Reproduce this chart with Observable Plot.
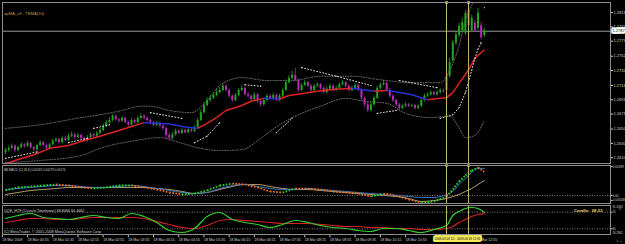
<!DOCTYPE html>
<html><head><meta charset="utf-8">
<script src="https://cdn.jsdelivr.net/npm/d3@7"></script>
<script src="https://cdn.jsdelivr.net/npm/@observablehq/plot@0.6"></script>
<style>
html,body{margin:0;padding:0;background:#000;}
#chart{width:625px;height:244px;overflow:hidden;background:#000;}
#chart svg{display:block;}
</style></head><body><div id="chart"></div>
<script>
// ---------- price bars (5-minute EURUSD-like) ----------
const open = [1.2617,1.2620,1.2623,1.2626,1.2620,1.2624,1.2628,1.2626,1.2630,1.2624,
1.2621,1.2627,1.2631,1.2627,1.2623,1.2628,1.2633,1.2635,1.2631,1.2637,
1.2634,1.2640,1.2642,1.2638,1.2641,1.2637,1.2634,1.2638,1.2642,1.2640,
1.2644,1.2648,1.2654,1.2659,1.2662,1.2668,1.2663,1.2661,1.2665,1.2659,
1.2656,1.2662,1.2659,1.2665,1.2668,1.2665,1.2662,1.2659,1.2655,1.2658,
1.2654,1.2651,1.2641,1.2637,1.2642,1.2647,1.2644,1.2648,1.2645,1.2649,
1.2647,1.2652,1.2662,1.2673,1.2683,1.2690,1.2693,1.2697,1.2701,1.2704,
1.2710,1.2704,1.2696,1.2690,1.2697,1.2704,1.2707,1.2698,1.2696,1.2691,
1.2698,1.2689,1.2684,1.2690,1.2696,1.2693,1.2697,1.2690,1.2696,1.2704,
1.2715,1.2721,1.2725,1.2718,1.2704,1.2711,1.2715,1.2710,1.2704,1.2710,
1.2712,1.2707,1.2701,1.2706,1.2710,1.2704,1.2707,1.2712,1.2715,1.2710,
1.2704,1.2707,1.2711,1.2704,1.2693,1.2684,1.2676,1.2684,1.2693,1.2707,
1.2712,1.2714,1.2704,1.2696,1.2690,1.2684,1.2679,1.2682,1.2684,1.2682,
1.2683,1.2679,1.2682,1.2690,1.2696,1.2698,1.2701,1.2698,1.2701,1.2704,
1.2704,1.2724,1.2746,1.2770,1.2781,1.2788,1.2784,1.2816,1.2788,1.2798,
1.2791,1.2795,1.2781];
const close = [1.2620,1.2623,1.2626,1.2620,1.2624,1.2628,1.2626,1.2630,1.2624,1.2621,
1.2627,1.2631,1.2627,1.2623,1.2628,1.2633,1.2635,1.2631,1.2637,1.2634,
1.2640,1.2642,1.2638,1.2641,1.2637,1.2634,1.2638,1.2642,1.2640,1.2644,
1.2648,1.2654,1.2659,1.2662,1.2668,1.2663,1.2661,1.2665,1.2659,1.2656,
1.2662,1.2659,1.2665,1.2668,1.2665,1.2662,1.2659,1.2655,1.2658,1.2654,
1.2651,1.2641,1.2637,1.2642,1.2647,1.2644,1.2648,1.2645,1.2649,1.2647,
1.2652,1.2662,1.2673,1.2683,1.2690,1.2693,1.2697,1.2701,1.2704,1.2710,
1.2704,1.2696,1.2690,1.2697,1.2704,1.2707,1.2698,1.2696,1.2691,1.2698,
1.2689,1.2684,1.2690,1.2696,1.2693,1.2697,1.2690,1.2696,1.2704,1.2715,
1.2721,1.2725,1.2718,1.2704,1.2711,1.2715,1.2710,1.2704,1.2710,1.2712,
1.2707,1.2701,1.2706,1.2710,1.2704,1.2707,1.2712,1.2715,1.2710,1.2704,
1.2707,1.2711,1.2704,1.2693,1.2684,1.2676,1.2684,1.2693,1.2707,1.2712,
1.2714,1.2704,1.2696,1.2690,1.2684,1.2679,1.2682,1.2684,1.2682,1.2683,
1.2679,1.2682,1.2690,1.2696,1.2698,1.2701,1.2698,1.2701,1.2704,1.2703,
1.2724,1.2743,1.2771,1.2782,1.2794,1.2799,1.2812,1.2795,1.2805,1.2788,
1.2812,1.2778,1.2787];
const high = [1.2623,1.2626,1.2629,1.2628,1.2626,1.2631,1.2630,1.2633,1.2632,1.2626,
1.2629,1.2634,1.2633,1.2629,1.2630,1.2636,1.2638,1.2637,1.2640,1.2639,
1.2643,1.2646,1.2644,1.2644,1.2643,1.2639,1.2641,1.2645,1.2644,1.2647,
1.2651,1.2657,1.2662,1.2666,1.2671,1.2670,1.2665,1.2668,1.2667,1.2661,
1.2665,1.2664,1.2668,1.2672,1.2670,1.2667,1.2664,1.2661,1.2661,1.2660,
1.2656,1.2653,1.2644,1.2645,1.2650,1.2649,1.2651,1.2650,1.2652,1.2651,
1.2655,1.2665,1.2677,1.2687,1.2694,1.2697,1.2701,1.2705,1.2708,1.2714,
1.2712,1.2706,1.2698,1.2700,1.2707,1.2711,1.2709,1.2701,1.2698,1.2701,
1.2700,1.2691,1.2693,1.2699,1.2698,1.2700,1.2699,1.2699,1.2707,1.2719,
1.2725,1.2731,1.2735,1.2720,1.2714,1.2718,1.2717,1.2712,1.2713,1.2715,
1.2714,1.2709,1.2709,1.2713,1.2712,1.2710,1.2715,1.2718,1.2717,1.2712,
1.2710,1.2714,1.2713,1.2706,1.2695,1.2687,1.2687,1.2696,1.2710,1.2715,
1.2718,1.2716,1.2707,1.2698,1.2692,1.2686,1.2685,1.2687,1.2686,1.2685,
1.2685,1.2685,1.2693,1.2699,1.2701,1.2704,1.2703,1.2704,1.2707,1.2706,
1.2729,1.2749,1.2774,1.2787,1.2798,1.2805,1.2816,1.2827,1.2809,1.2802,
1.2819,1.2799,1.2791];
const low = [1.2614,1.2618,1.2621,1.2617,1.2618,1.2622,1.2623,1.2624,1.2622,1.2618,
1.2619,1.2625,1.2625,1.2620,1.2621,1.2626,1.2631,1.2629,1.2629,1.2632,
1.2632,1.2638,1.2636,1.2636,1.2635,1.2631,1.2632,1.2636,1.2637,1.2638,
1.2642,1.2646,1.2652,1.2657,1.2660,1.2661,1.2658,1.2659,1.2657,1.2653,
1.2654,1.2657,1.2657,1.2663,1.2663,1.2660,1.2656,1.2653,1.2653,1.2652,
1.2648,1.2636,1.2633,1.2635,1.2640,1.2642,1.2642,1.2643,1.2643,1.2645,
1.2645,1.2650,1.2660,1.2671,1.2681,1.2687,1.2691,1.2695,1.2699,1.2702,
1.2702,1.2693,1.2687,1.2688,1.2695,1.2702,1.2696,1.2693,1.2688,1.2689,
1.2686,1.2681,1.2682,1.2688,1.2691,1.2691,1.2688,1.2688,1.2694,1.2702,
1.2713,1.2719,1.2716,1.2701,1.2702,1.2709,1.2708,1.2702,1.2702,1.2708,
1.2705,1.2699,1.2699,1.2704,1.2702,1.2702,1.2705,1.2710,1.2708,1.2702,
1.2702,1.2705,1.2702,1.2690,1.2680,1.2673,1.2674,1.2682,1.2691,1.2705,
1.2710,1.2702,1.2693,1.2687,1.2681,1.2676,1.2677,1.2680,1.2680,1.2680,
1.2677,1.2677,1.2680,1.2688,1.2694,1.2696,1.2696,1.2696,1.2699,1.2700,
1.2701,1.2721,1.2743,1.2767,1.2778,1.2785,1.2781,1.2792,1.2785,1.2785,
1.2788,1.2775,1.2778];

// ---------- main-window indicators ----------
const maIdx = [0,3,9,14,20,25,30,36,41,44,47,52,57,61,64,67,70,75,78,82,87,90,95,99,103,110,112,117,121,123,129,134,138,140,142,144,147,149,152];
const maVal = [1.2601,1.2606,1.2614,1.2623,1.2627,1.2634,1.2640,1.2648,1.2655,1.2659,1.2658,1.2657,1.2653,1.2651,1.2658,1.2666,1.2676,1.2683,1.2689,1.2693,1.2692,1.2697,1.2700,1.2703,1.2705,1.2707,1.2706,1.2703,1.2704,1.2703,1.2698,1.2691,1.2693,1.2694,1.2701,1.2714,1.2733,1.2749,1.2761];
const upIdx = [0,11,24,30,37,43,46,52,59,64,68,75,83,91,100,110,119,129,138,141,144,146,149];
const upVal = [1.2651,1.2656,1.2666,1.2670,1.2676,1.2682,1.2682,1.2676,1.2673,1.2690,1.2711,1.2722,1.2718,1.2718,1.2724,1.2724,1.2719,1.2715,1.2715,1.2732,1.2767,1.2802,1.2830];
const lowIdx = [0,11,24,30,40,49,56,62,68,75,81,87,94,100,108,114,121,127,135,141,144,146,149,152];
const lowVal = [1.2603,1.2606,1.2613,1.2623,1.2633,1.2638,1.2630,1.2623,1.2620,1.2621,1.2637,1.2656,1.2672,1.2682,1.2693,1.2689,1.2686,1.2672,1.2666,1.2668,1.2652,1.2638,1.2641,1.2662];
const sarSeg = [1,1,2,2,3,3,4,4,5,5,5,6,6,7,7,8,8,8,9,9,10,10,11,11,11,11,11,11,11,11,12];
const sarIdx = [0,10,20,26,28,33,46,56,60,64,68,76,81,86,91,94,105,116,118,124,125,137,138,142,144,146,148,149,150,151,152];
const sarVal = [1.2609,1.2618,1.2631,1.2637,1.2651,1.2656,1.2673,1.2665,1.2631,1.2640,1.2659,1.2712,1.2710,1.2645,1.2665,1.2736,1.2724,1.2711,1.2672,1.2676,1.2718,1.2708,1.2665,1.2670,1.2680,1.2701,1.2732,1.2749,1.2762,1.2771,1.2820];
const priceTicks = [1.2813,1.2793,1.2773,1.2752,1.2732,1.2711,1.2691,1.2671,1.2650,1.2630,1.2610];

// ---------- sub-window indicators (sampled at bar indices) ----------
const subIdx = [0,4,8,12,16,20,24,28,32,36,40,44,48,52,56,60,64,68,72,76,80,84,88,92,96,100,104,108,112,116,120,124,128,132,136,140,142,144,146,148,150,152];
const macdDots = [0.00059,0.00094,0.00105,0.00117,0.00129,0.00117,0.00094,0.00082,0.00094,0.00117,0.00120,0.00094,0.00070,0.00035,0.00012,0.00023,0.00059,0.00117,0.00140,0.00129,0.00094,0.00047,0.00035,0.00082,0.00080,0.00070,0.00047,0.00035,0.00023,-0.00012,0.00023,0.00000,-0.00047,-0.00082,-0.00070,-0.00012,0.00070,0.00164,0.00234,0.00293,0.00328,0.00278];
const macdBlue = [0.00070,0.00082,0.00094,0.00105,0.00117,0.00117,0.00105,0.00094,0.00094,0.00105,0.00117,0.00105,0.00082,0.00059,0.00035,0.00023,0.00035,0.00082,0.00117,0.00129,0.00105,0.00082,0.00070,0.00070,0.00082,0.00070,0.00059,0.00047,0.00035,0.00023,0.00012,0.00000,-0.00012,-0.00023,-0.00023,0.00012,0.00047,0.00129,0.00199,0.00269,0.00316,0.00318];
const macdKhaki = [0.00012,0.00035,0.00059,0.00070,0.00082,0.00094,0.00094,0.00094,0.00094,0.00094,0.00094,0.00094,0.00082,0.00070,0.00047,0.00023,0.00035,0.00070,0.00105,0.00129,0.00129,0.00105,0.00082,0.00070,0.00070,0.00059,0.00047,0.00035,0.00023,0.00012,0.00000,-0.00012,-0.00035,-0.00070,-0.00059,-0.00035,-0.00012,0.00012,0.00047,0.00082,0.00129,0.00174];
const macdTicks = [0.00339,0,-0.00058];
const macdTickLabels = ["0.00339","0.00","-0.00058"];
const qqeGreen = [54.8,62.0,66.9,57.2,54.8,52.4,57.2,62.0,57.2,54.8,66.9,59.6,45.2,25.9,21.1,30.7,59.6,69.3,52.4,45.2,40.4,33.1,40.4,50.0,45.2,38.0,33.1,30.7,25.9,23.5,30.7,30.7,25.9,21.1,28.3,38.0,62.0,71.7,78.9,81.3,78.9,69.8];
const qqeRed = [45.2,50.0,54.8,54.8,52.4,52.4,54.8,57.2,57.2,57.2,57.2,54.8,47.6,40.4,33.1,30.7,38.0,50.0,52.4,50.0,47.6,45.2,42.8,42.8,42.8,40.4,38.0,35.5,35.5,33.1,33.1,30.7,30.7,28.3,28.3,30.7,35.5,45.2,52.4,59.6,64.5,66.5];
const qqeLevels = [70,30];
const qqeMaxLabel = "81.0563";
const qqeMinLabel = "16.2862";

// ---------- time axis & objects ----------
const timeIdx = [-1,7,15,23,31,39,47,55,63,71,79,87,95,103,111,119,127,151];
const timeLabels = ["18 Mar 2009","18 Mar 00:55","18 Mar 01:35","18 Mar 02:15","18 Mar 02:55","18 Mar 03:35","18 Mar 04:15","18 Mar 04:55","18 Mar 05:35","18 Mar 06:15","18 Mar 06:55","18 Mar 07:35","18 Mar 08:15","18 Mar 08:55","18 Mar 09:35","18 Mar 10:15","18 Mar 10:55","Mar 12:55"];
const vlines = [140,147];
const vlineLabels = ["2009.03.18 12:00","2009.03.18 12:35"];
const mainTitle = "xpMA_v9 - TEMA(10)";
const macdTitle = "BB MACD (12,26,9) 0.00242 0.00278 0.00174";
const qqeTitle = "QQE_HTF (Current Timeframe) 69.8466 66.4662";
const copyright = "(C) MetaTrader, \u00A9 2001-2008 MetaQuotes Software Corp.";
const candleTimer = "Candle:  08:22";

// ---------- build ----------
const UP = "#23a323", DN = "#b52bb5", MARED = "#e02424", MABLUE = "#2433d6";
const bars = close.map((c, i) => ({i, o: open[i], h: high[i], l: low[i], c}));
const lastClose = close[close.length - 1];
const maSegs = maIdx.slice(1).map((_, k) => ({x1: maIdx[k], y1: maVal[k], x2: maIdx[k + 1], y2: maVal[k + 1]}));
const upper = upIdx.map((i, k) => ({i, v: upVal[k]}));
const lower = lowIdx.map((i, k) => ({i, v: lowVal[k]}));
const sar = sarIdx.map((i, k) => ({i, v: sarVal[k], seg: sarSeg[k]}));
const pairs = (vals) => subIdx.slice(1).map((_, k) => ({x1: subIdx[k], y1: vals[k], x2: subIdx[k + 1], y2: vals[k + 1]}));
const series = (vals) => subIdx.map((i, k) => ({i, v: vals[k]}));

const xDomain = [-0.95, 192.06];
const font = "'Liberation Sans', Arial, sans-serif";
const base = {
  width: 625, marginLeft: 2, marginRight: 15,
  style: {background: "#000", color: "#d2d2d2", fontFamily: font}
};
const FRAME = "#8e8e8e";
const VL = "#c9b66d";

const main = Plot.plot({
  ...base, height: 164, marginTop: 2, marginBottom: 1,
  x: {domain: xDomain, axis: null},
  y: {domain: [1.26018, 1.28272]},
  marks: [
    Plot.ruleY([lastClose], {stroke: "#9c9c9c", strokeWidth: 1}),
    Plot.line(upper, {x: "i", y: "v", curve: "monotone-x", stroke: "#8a8a8a", strokeWidth: 0.8, strokeDasharray: "1,1.6", clip: true}),
    Plot.line(lower, {x: "i", y: "v", curve: "monotone-x", stroke: "#8a8a8a", strokeWidth: 0.8, strokeDasharray: "1,1.6", clip: true}),
    Plot.ruleX(bars, {x: "i", y1: "l", y2: "h", stroke: d => d.c >= d.o ? UP : DN, strokeWidth: 0.8, clip: true}),
    Plot.ruleX(bars, {x: "i", y1: "o", y2: "c", stroke: d => d.c >= d.o ? UP : DN, strokeWidth: 2, clip: true}),
    Plot.link(maSegs, {x1: "x1", y1: "y1", x2: "x2", y2: "y2", stroke: d => d.y2 > d.y1 ? MARED : MABLUE, strokeWidth: 1.5, clip: true}),
    Plot.line(sar, {x: "i", y: "v", z: "seg", stroke: "#d8d8d8", strokeWidth: 1, strokeDasharray: "1,2.1", clip: true}),
    Plot.dot(sar, {x: "i", y: "v", r: 0.6, fill: "#d8d8d8", clip: true}),
    Plot.ruleX(vlines, {stroke: VL, strokeWidth: 1}),
    Plot.dot(vlines, {x: d => d, frameAnchor: "top", symbol: "square", r: 1.4, fill: "#f2e38c"}),
    Plot.text([mainTitle], {text: d => d, frameAnchor: "top-left", dx: 1.5, dy: 10, textAnchor: "start", fill: "#c8964b", fontSize: 4.2}),
    Plot.frame({stroke: FRAME}),
    Plot.axisY(priceTicks, {anchor: "right", tickSize: 2, tickPadding: 1, tickFormat: d => d.toFixed(4), fontSize: 4}),
    Plot.text([lastClose], {y: d => d, frameAnchor: "right", dx: 8, text: d => d.toFixed(4), fill: "#000", stroke: "#fff", strokeWidth: 3.5, paintOrder: "stroke", fontSize: 4, textAnchor: "middle"})
  ]
});

const macd = Plot.plot({
  ...base, height: 40, marginTop: 1, marginBottom: 1,
  x: {domain: xDomain, axis: null},
  y: {domain: [-0.000936, 0.00351]},
  marks: [
    Plot.ruleY([0], {stroke: "#9a9a9a", strokeWidth: 0.8, strokeDasharray: "1,1.5"}),
    Plot.line(series(macdKhaki), {x: "i", y: "v", curve: "monotone-x", stroke: "#b4a070", strokeWidth: 1, clip: true}),
    Plot.line(series(macdBlue), {x: "i", y: "v", curve: "monotone-x", stroke: "#3a78c0", strokeWidth: 1, clip: true}),
    Plot.link(pairs(macdDots), {x1: "x1", y1: "y1", x2: "x2", y2: "y2", stroke: d => d.y2 >= d.y1 ? "#2ad82a" : "#f07020", strokeWidth: 1.8, strokeDasharray: "1.6,1.5", clip: true}),
    Plot.ruleX(vlines, {stroke: VL, strokeWidth: 1}),
    Plot.dot(vlines, {x: d => d, frameAnchor: "top", symbol: "square", r: 1.3, fill: "#f2e38c"}),
    Plot.text([macdTitle], {text: d => d, frameAnchor: "top-left", dx: 1.5, dy: 3.3, textAnchor: "start", fill: "#cfcfcf", fontSize: 3}),
    Plot.frame({stroke: FRAME}),
    Plot.axisY(macdTicks, {anchor: "right", tickSize: 1.5, tickPadding: 0.5, tickFormat: d => macdTickLabels[macdTicks.indexOf(d)], fontSize: 3.1})
  ]
});

const qqe = Plot.plot({
  ...base, height: 40, marginTop: 1, marginBottom: 10,
  x: {domain: xDomain},
  y: {domain: [16.3, 86.1]},
  marks: [
    Plot.ruleY(qqeLevels, {stroke: "#9a9a9a", strokeWidth: 0.8, strokeDasharray: "1,1.5"}),
    Plot.line(series(qqeRed), {x: "i", y: "v", curve: "monotone-x", stroke: "#d42020", strokeWidth: 1.2, clip: true}),
    Plot.line(series(qqeGreen), {x: "i", y: "v", curve: "monotone-x", stroke: "#34d234", strokeWidth: 1.2, clip: true}),
    Plot.ruleX(vlines, {stroke: VL, strokeWidth: 1}),
    Plot.text([qqeTitle], {text: d => d, frameAnchor: "top-left", dx: 1.5, dy: 4, textAnchor: "start", fill: "#cfcfcf", fontSize: 3.7}),
    Plot.text([candleTimer], {text: d => d, frameAnchor: "top-right", dx: -8, dy: 4, textAnchor: "end", fill: "#eed36a", fontWeight: "bold", fontSize: 4.2}),
    Plot.text([copyright], {text: d => d, frameAnchor: "bottom-left", dx: 1.5, dy: -1.6, textAnchor: "start", fill: "#cfcfcf", fontSize: 3.8}),
    Plot.frame({stroke: FRAME}),
    Plot.axisY(qqeLevels, {anchor: "right", tickSize: 1.5, tickPadding: 0.5, tickFormat: d => String(d), fontSize: 2.8}),
    Plot.text([qqeMaxLabel], {text: d => d, frameAnchor: "top-right", dx: 2, dy: 0.6, lineAnchor: "top", textAnchor: "start", fill: "#d2d2d2", fontSize: 2.8}),
    Plot.text([qqeMinLabel], {text: d => d, frameAnchor: "bottom-right", dx: 2, dy: -0.3, lineAnchor: "bottom", textAnchor: "start", fill: "#d2d2d2", fontSize: 2.8}),
    Plot.axisX(timeIdx, {anchor: "bottom", tickSize: 2, tickPadding: 0.5, dy: 1.2, textAnchor: "start", tickFormat: d => timeLabels[timeIdx.indexOf(d)], fontSize: 3.6}),
    Plot.text(vlines, {x: d => d, frameAnchor: "bottom", dy: 5.6, text: (d, i) => vlineLabels[i], fill: "#000", stroke: "#f4ea5c", strokeWidth: 4, paintOrder: "stroke", fontSize: 3, textAnchor: "middle"})
  ]
});

const root = document.getElementById("chart");
root.append(main, macd, qqe);
</script>
</body></html>
